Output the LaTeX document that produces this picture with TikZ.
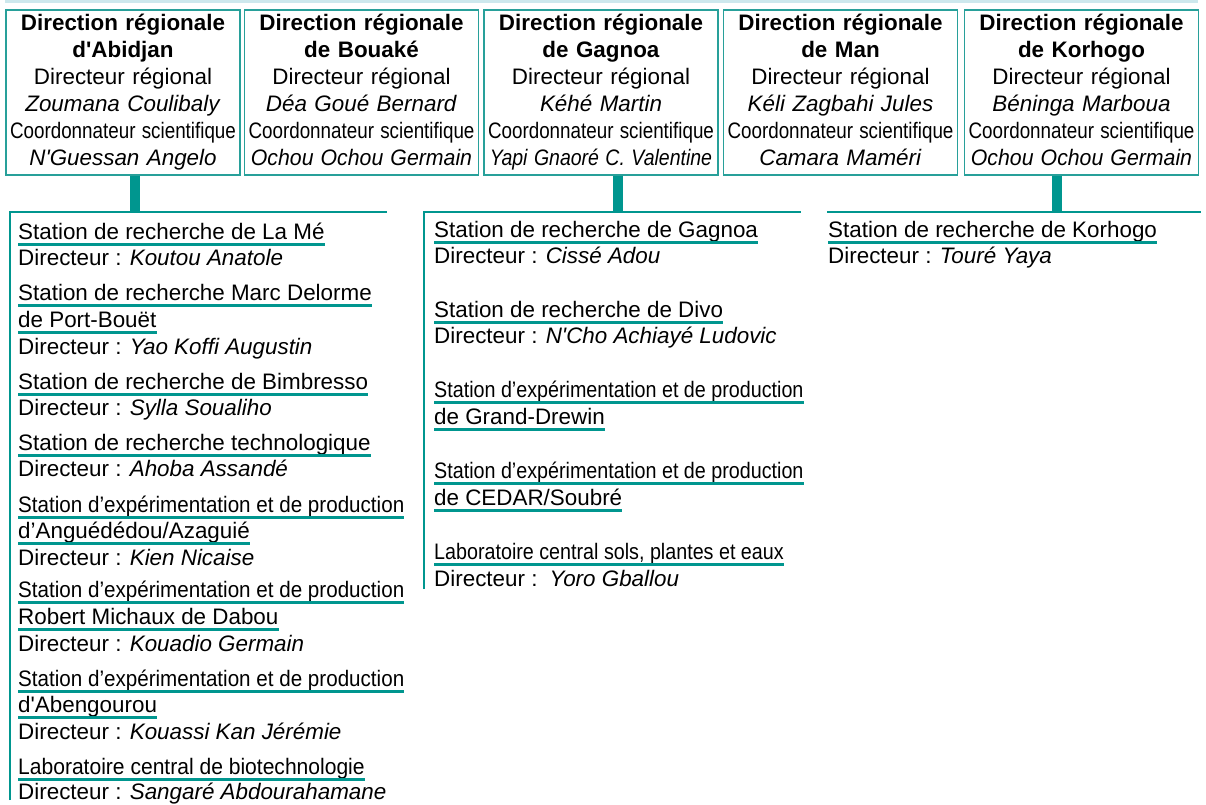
\documentclass[tikz,border=0pt]{standalone}
\usepackage{fontspec}
\setmainfont{Liberation Sans}
\usepackage{tikz}
\definecolor{tealdark}{RGB}{0,150,143}
\definecolor{tealbox}{RGB}{40,160,154}
\definecolor{bandblue}{RGB}{205,232,237}
\newcommand{\hsquash}[2]{\scalebox{#1}[1]{#2}}
\newcommand{\ap}{\textquotesingle}
\tikzset{
  dirbox/.style = {draw=tealbox, line width=1.2pt, text width=226pt,
    minimum height=165pt, inner xsep=4pt, inner ysep=1pt, align=center,
    execute at begin node=\strut, execute at end node=\strut},% regional box
  ln/.style = {anchor=base west, inner sep=0pt, text depth=5.5pt},% one text line
  uline/.style = {draw=tealdark, line width=2.6pt},% underline
  bar/.style = {draw=tealdark, line width=10pt},% thick link
  branch/.style = {draw=tealdark, line width=2.6pt}
}

\begin{document}
\begin{tikzpicture}[x=1pt,y=-1pt,font=\fontsize{22.4}{27}\selectfont]
\useasboundingbox (0,0) rectangle (1206,804);
\fill[bandblue] (5,0) rectangle (1198,3);

% regional directions
\node[dirbox] (abidjan) at (123,92.5) {\textbf{Direction régionale}\\\textbf{d\ap Abidjan}\\Directeur régional\\\textit{Zoumana Coulibaly}\\\hsquash{0.84}{Coordonnateur scientifique}\\\textit{N\ap Guessan Angelo}};
\node[dirbox] (bouake) at (361.5,92.5) {\textbf{Direction régionale}\\\textbf{de Bouaké}\\Directeur régional\\\textit{Déa Goué Bernard}\\\hsquash{0.84}{Coordonnateur scientifique}\\\hsquash{0.95}{\textit{Ochou Ochou Germain}}};
\node[dirbox] (gagnoa) at (601,92.5) {\textbf{Direction régionale}\\\textbf{de Gagnoa}\\Directeur régional\\\textit{Kéhé Martin}\\\hsquash{0.84}{Coordonnateur scientifique}\\\hsquash{0.87}{\textit{Yapi Gnaoré C. Valentine}}};
\node[dirbox] (man) at (840.5,92.5) {\textbf{Direction régionale}\\\textbf{de Man}\\Directeur régional\\\textit{Kéli Zagbahi Jules}\\\hsquash{0.84}{Coordonnateur scientifique}\\\textit{Camara Maméri}};
\node[dirbox] (korhogo) at (1081.5,92.5) {\textbf{Direction régionale}\\\textbf{de Korhogo}\\Directeur régional\\\textit{Béninga Marboua}\\\hsquash{0.84}{Coordonnateur scientifique}\\\hsquash{0.95}{\textit{Ochou Ochou Germain}}};

% branches
\coordinate (barA) at (135,212);
\coordinate (cornerA) at (10,212);
\coordinate (footA) at (10,800);
\coordinate (endA) at (387,212);
\coordinate (barB) at (618,212);
\coordinate (cornerB) at (424,212);
\coordinate (footB) at (424,589);
\coordinate (endB) at (801,212);
\coordinate (barC) at (1057,212);
\coordinate (startC) at (827,212);
\coordinate (endC) at (1201,212);
\draw[bar] (abidjan.south -| barA) -- (barA);
\draw[bar] (gagnoa.south -| barB) -- (barB);
\draw[bar] (korhogo.south -| barC) -- (barC);
\draw[branch] (footA) -- (cornerA) -- (endA);
\draw[branch] (footB) -- (cornerB) -- (endB);
\draw[branch] (startC) -- (endC);

% Abidjan stations
\node[ln] (lame) at (18,239) {Station de recherche de La Mé};
\node[ln] (lamedir) at (18,265) {Directeur : \textit{Koutou Anatole}};
\node[ln] (delorme) at (18,300) {Station de recherche Marc Delorme};
\node[ln] (delormeb) at (18,327) {de Port-Bouët};
\node[ln] (delormedir) at (18,354) {Directeur : \textit{Yao Koffi Augustin}};
\node[ln] (bimbresso) at (18,389) {Station de recherche de Bimbresso};
\node[ln] (bimbressodir) at (18,415) {Directeur : \textit{Sylla Soualiho}};
\node[ln] (techno) at (18,450) {Station de recherche technologique};
\node[ln] (technodir) at (18,476) {Directeur : \textit{Ahoba Assandé}};
\node[ln] (angue) at (18,512) {\hsquash{0.92}{Station d'expérimentation et de production}};
\node[ln] (angueb) at (18,538) {d'Anguédédou/Azaguié};
\node[ln] (anguedir) at (18,565) {Directeur : \textit{Kien Nicaise}};
\node[ln] (dabou) at (18,597) {\hsquash{0.92}{Station d'expérimentation et de production}};
\node[ln] (daboub) at (18,624) {Robert Michaux de Dabou};
\node[ln] (daboudir) at (18,651) {Directeur : \textit{Kouadio Germain}};
\node[ln] (abeng) at (18,686) {\hsquash{0.92}{Station d'expérimentation et de production}};
\node[ln] (abengb) at (18,712) {d\ap Abengourou};
\node[ln] (abengdir) at (18,739) {Directeur : \textit{Kouassi Kan Jérémie}};
\node[ln] (biotech) at (18,774) {\hsquash{0.94}{Laboratoire central de biotechnologie}};
\node[ln] (biotechdir) at (18,799) {Directeur : \textit{Sangaré Abdourahamane}};

% Gagnoa stations
\node[ln] (gag) at (434,237) {Station de recherche de Gagnoa};
\node[ln] (gagdir) at (434,263) {Directeur : \textit{Cissé Adou}};
\node[ln] (divo) at (434,317) {Station de recherche de Divo};
\node[ln] (divodir) at (434,343) {Directeur : \textit{N\ap Cho Achiayé Ludovic}};
\node[ln] (drewin) at (434,397) {\hsquash{0.88}{Station d'expérimentation et de production}};
\node[ln] (drewinb) at (434,424) {de Grand-Drewin};
\node[ln] (soubre) at (434,478) {\hsquash{0.88}{Station d'expérimentation et de production}};
\node[ln] (soubreb) at (434,505) {de CEDAR/Soubré};
\node[ln] (lcspe) at (434,559) {\hsquash{0.88}{Laboratoire central sols, plantes et eaux}};
\node[ln] (lcspedir) at (434,586) {Directeur :\, \textit{Yoro Gballou}};

% Korhogo station
\node[ln] (kor) at (828,237) {Station de recherche de Korhogo};
\node[ln] (kordir) at (828,263) {Directeur : \textit{Touré Yaya}};

\foreach \n in {lame,delorme,delormeb,bimbresso,techno,angue,angueb,dabou,daboub,
  abeng,abengb,biotech,gag,divo,drewin,drewinb,soubre,soubreb,lcspe,kor}
  \draw[uline] (\n.south west) -- (\n.south east);
\end{tikzpicture}
\end{document}
